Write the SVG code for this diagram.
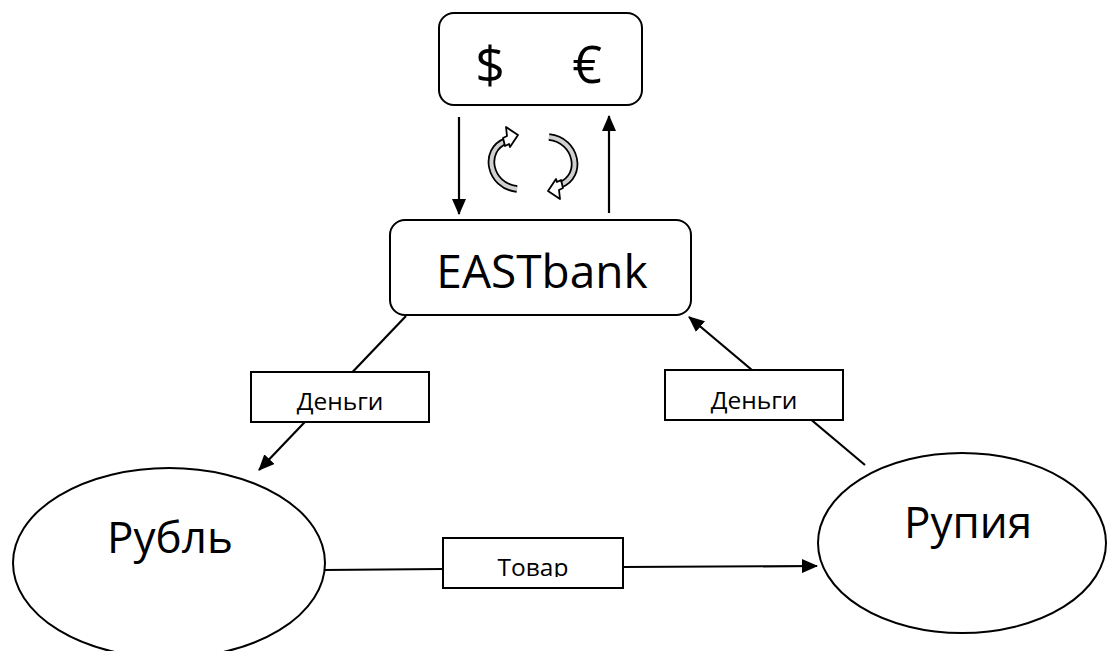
<svg xmlns="http://www.w3.org/2000/svg" width="1107" height="651" viewBox="0 0 1107 651">
<style>
  .box{fill:#fff;stroke:#000;stroke-width:2}
  .lbl{fill:#fff;stroke:#000;stroke-width:2}
  .t{font-family:"Open Sans","Noto Sans","DejaVu Sans",sans-serif;fill:#000;text-anchor:middle}
  .big{font-size:44px}
  .small{font-size:24.5px}
  .edge{stroke:#000;stroke-width:2.2;fill:none}
  .arr{marker-end:url(#ah)}
</style>
<defs>
  <marker id="ah" viewBox="0 0 16 14" refX="15" refY="7" markerWidth="16" markerHeight="14" markerUnits="userSpaceOnUse" orient="auto">
    <path d="M0,0 L16,7 L0,14 Z" fill="#000"/>
  </marker>
  <clipPath id="clipTovar"><rect x="443" y="538" width="180" height="39"/></clipPath>
  <g id="cyc">
    <path d="M517 189 C489 186,482 150,506 141" fill="none" stroke="#000" stroke-width="7.5"/>
    <path d="M517 189 C489 186,482 150,506 141" fill="none" stroke="#d0d0d0" stroke-width="4"/>
    <path d="M518 135 L506 127 L507 136 L503 138 L505 146 L509 144 L510 147 Z" fill="#fff" stroke="#000" stroke-width="1.8" stroke-linejoin="round"/>
  </g>
</defs>
<rect width="1107" height="651" fill="#fff"/>

<g id="connectors">
  <line class="edge arr" x1="459" y1="117" x2="459" y2="214"/>
  <line class="edge arr" x1="609" y1="213" x2="609" y2="116"/>
  <line class="edge arr" x1="406" y1="316" x2="259" y2="470"/>
  <line class="edge arr" x1="865" y1="465" x2="689" y2="317"/>
  <line class="edge" x1="324" y1="570" x2="443" y2="569"/>
  <line class="edge arr" x1="623" y1="567" x2="817" y2="566"/>
  <g id="cycle-arrows">
    <use href="#cyc"/>
    <use href="#cyc" transform="rotate(180 533 163)"/>
  </g>
  <g id="label-left">
    <rect class="lbl" x="251" y="372" width="178" height="50"/>
    <text class="t small" x="340" y="410">Деньги</text>
  </g>
  <g id="label-right">
    <rect class="lbl" x="665" y="370" width="178" height="50"/>
    <text class="t small" x="754" y="409">Деньги</text>
  </g>
  <g id="label-bottom">
    <rect class="lbl" x="443" y="538" width="180" height="50"/>
    <text class="t small" x="533" y="576" clip-path="url(#clipTovar)">Товар</text>
  </g>
</g>

<g id="node-currencies">
  <rect class="box" x="439" y="13" width="203" height="92" rx="15"/>
  <text class="t" style="font-size:52px" x="490" y="83">$</text>
  <text class="t" style="font-size:52px" x="587" y="83">€</text>
</g>

<g id="node-eastbank">
  <rect class="box" x="390" y="220" width="301" height="95" rx="15"/>
  <text class="t big" x="542" y="288" style="font-size:46px">EASTbank</text>
</g>

<g id="node-rubl">
  <ellipse class="box" cx="169" cy="563" rx="156" ry="95"/>
  <text class="t big" x="170" y="553">Рубль</text>
</g>

<g id="node-rupiya">
  <ellipse class="box" cx="962" cy="543" rx="144" ry="90"/>
  <text class="t big" x="968" y="538">Рупия</text>
</g>
</svg>
